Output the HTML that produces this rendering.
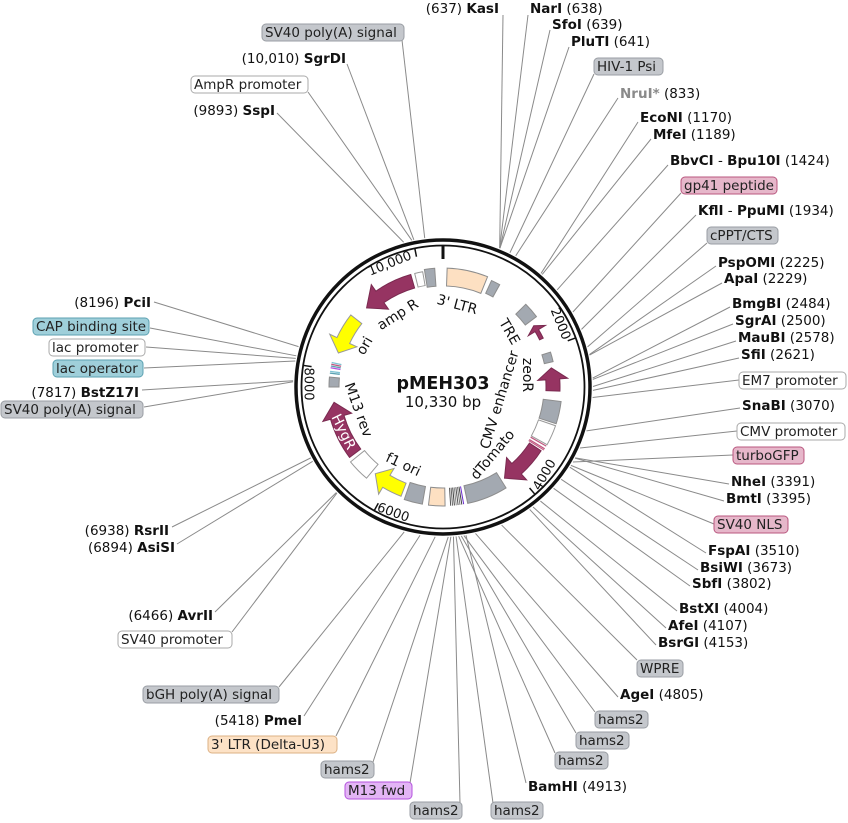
<!DOCTYPE html>
<html><head><meta charset="utf-8"><style>
html,body{margin:0;padding:0;background:#fff;}
svg{display:block;font-family:"DejaVu Sans","Liberation Sans",sans-serif;}
.t{font-size:13.5px;fill:#111;white-space:pre;}
.b{font-weight:bold;}
.lb{font-size:13.5px;fill:#222;}
.in{font-size:14px;fill:#111;}
.tk{font-size:13px;fill:#111;}
</style></head><body>
<svg id="s" width="848" height="823" viewBox="0 0 848 823" xmlns="http://www.w3.org/2000/svg">
<g id="lines" stroke="#8a8a8a" stroke-width="1" fill="none"></g>
<g id="feat"></g>
<circle cx="443" cy="387" r="147" fill="none" stroke="#111" stroke-width="3.5"/>
<circle cx="443" cy="387" r="141.5" fill="none" stroke="#111" stroke-width="1.8"/>
<g id="ticks" stroke="#111"></g>

<text x="443" y="389" text-anchor="middle" font-size="17.5" font-weight="bold" fill="#111">pMEH303</text>
<text x="443" y="407" text-anchor="middle" font-size="15" fill="#111">10,330 bp</text>

<g class="in" text-anchor="middle" dominant-baseline="central">
<text transform="translate(457,305) rotate(15)">3' LTR</text>
<text transform="translate(398,315) rotate(-32)">amp R</text>
<text transform="translate(365,346) rotate(-60)">ori</text>
<text transform="translate(509,332) rotate(60)">TRE</text>
<text transform="translate(527,375) rotate(90)">zeoR</text>
<text transform="translate(500,400) rotate(-73)">CMV enhancer</text>
<text transform="translate(493,455) rotate(-50)">dTomato</text>
<text transform="translate(403,465) rotate(25)">f1 ori</text>
<text transform="translate(358,410) rotate(70)">M13 rev</text>
<text transform="translate(343,432) rotate(64)" style="fill:#fff">HygR</text>
</g>
<g class="tk" text-anchor="middle" dominant-baseline="central">
<text transform="translate(390,264) rotate(-22)">10,000</text>
<text transform="translate(560,324) rotate(68)">2000</text>
<text transform="translate(545,475) rotate(-60)">4000</text>
<text transform="translate(393,513) rotate(20)">6000</text>
<text transform="translate(308,384) rotate(90)">8000</text>
</g>

<g stroke-width="1">
<rect x="262" y="24" width="142" height="17" rx="4" fill="#c4c7cc" stroke="#9a9ea4"/>
<rect x="191" y="76" width="117" height="17" rx="4" fill="#fff" stroke="#aaa"/>
<rect x="594" y="58" width="69" height="17" rx="4" fill="#c4c7cc" stroke="#9a9ea4"/>
<rect x="681" y="177" width="96" height="17" rx="4" fill="#e6b7ca" stroke="#b9577f"/>
<rect x="707" y="227" width="71" height="17" rx="4" fill="#c4c7cc" stroke="#9a9ea4"/>
<rect x="739" y="372" width="107" height="17" rx="4" fill="#fff" stroke="#aaa"/>
<rect x="737" y="423" width="108" height="17" rx="4" fill="#fff" stroke="#aaa"/>
<rect x="733" y="447" width="71" height="17" rx="4" fill="#e6b7ca" stroke="#b9577f"/>
<rect x="714" y="516" width="74" height="17" rx="4" fill="#e6b7ca" stroke="#b9577f"/>
<rect x="637" y="660" width="46" height="17" rx="4" fill="#c4c7cc" stroke="#9a9ea4"/>
<rect x="595" y="711" width="53" height="17" rx="4" fill="#c4c7cc" stroke="#9a9ea4"/>
<rect x="576" y="732" width="53" height="17" rx="4" fill="#c4c7cc" stroke="#9a9ea4"/>
<rect x="555" y="752" width="53" height="17" rx="4" fill="#c4c7cc" stroke="#9a9ea4"/>
<rect x="491" y="802" width="52" height="17" rx="4" fill="#c4c7cc" stroke="#9a9ea4"/>
<rect x="410" y="802" width="52" height="17" rx="4" fill="#c4c7cc" stroke="#9a9ea4"/>
<rect x="345" y="782" width="67" height="17" rx="4" fill="#e3b5f5" stroke="#b453de"/>
<rect x="321" y="761" width="53" height="17" rx="4" fill="#c4c7cc" stroke="#9a9ea4"/>
<rect x="208" y="736" width="129" height="17" rx="4" fill="#fde2c6" stroke="#dcb184"/>
<rect x="143" y="686" width="136" height="17" rx="4" fill="#c4c7cc" stroke="#9a9ea4"/>
<rect x="118" y="631" width="114" height="17" rx="4" fill="#fff" stroke="#aaa"/>
<rect x="1" y="401" width="142" height="17" rx="4" fill="#c4c7cc" stroke="#9a9ea4"/>
<rect x="53" y="360" width="90" height="17" rx="4" fill="#9fcfda" stroke="#5ca2b2"/>
<rect x="49" y="339" width="96" height="17" rx="4" fill="#fff" stroke="#aaa"/>
<rect x="33" y="318" width="116" height="17" rx="4" fill="#9fcfda" stroke="#5ca2b2"/>
</g>
<g class="lb">
<text x="265" y="37">SV40 poly(A) signal</text>
<text x="194" y="89">AmpR promoter</text>
<text x="597" y="71">HIV-1 Psi</text>
<text x="684" y="190">gp41 peptide</text>
<text x="710" y="240">cPPT/CTS</text>
<text x="742" y="385">EM7 promoter</text>
<text x="740" y="436">CMV promoter</text>
<text x="736" y="460">turboGFP</text>
<text x="717" y="529">SV40 NLS</text>
<text x="640" y="673">WPRE</text>
<text x="598" y="724">hams2</text>
<text x="579" y="745">hams2</text>
<text x="558" y="765">hams2</text>
<text x="494" y="815">hams2</text>
<text x="413" y="815">hams2</text>
<text x="348" y="795">M13 fwd</text>
<text x="324" y="774">hams2</text>
<text x="211" y="749">3' LTR (Delta-U3)</text>
<text x="146" y="699">bGH poly(A) signal</text>
<text x="121" y="644">SV40 promoter</text>
<text x="4" y="414">SV40 poly(A) signal</text>
<text x="56" y="373">lac operator</text>
<text x="52" y="352">lac promoter</text>
<text x="36" y="331">CAP binding site</text>
</g>

<g class="t" xml:space="preserve">
<text x="499" y="13" text-anchor="end">(637)  <tspan class="b">KasI</tspan></text>
<text x="530" y="13"><tspan class="b">NarI</tspan>  (638)</text>
<text x="552" y="29"><tspan class="b">SfoI</tspan>  (639)</text>
<text x="571" y="46"><tspan class="b">PluTI</tspan>  (641)</text>
<text x="620" y="98"><tspan class="b" fill="#8a8a8a">NruI*</tspan>  (833)</text>
<text x="640" y="122"><tspan class="b">EcoNI</tspan>  (1170)</text>
<text x="653" y="139"><tspan class="b">MfeI</tspan>  (1189)</text>
<text x="670" y="165"><tspan class="b">BbvCI</tspan> - <tspan class="b">Bpu10I</tspan>  (1424)</text>
<text x="698" y="215"><tspan class="b">KflI</tspan> - <tspan class="b">PpuMI</tspan>  (1934)</text>
<text x="718" y="267"><tspan class="b">PspOMI</tspan>  (2225)</text>
<text x="724" y="283"><tspan class="b">ApaI</tspan>  (2229)</text>
<text x="732" y="308"><tspan class="b">BmgBI</tspan>  (2484)</text>
<text x="735" y="325"><tspan class="b">SgrAI</tspan>  (2500)</text>
<text x="738" y="342"><tspan class="b">MauBI</tspan>  (2578)</text>
<text x="741" y="359"><tspan class="b">SfiI</tspan>  (2621)</text>
<text x="742" y="410"><tspan class="b">SnaBI</tspan>  (3070)</text>
<text x="731" y="486"><tspan class="b">NheI</tspan>  (3391)</text>
<text x="726" y="503"><tspan class="b">BmtI</tspan>  (3395)</text>
<text x="708" y="555"><tspan class="b">FspAI</tspan>  (3510)</text>
<text x="700" y="572"><tspan class="b">BsiWI</tspan>  (3673)</text>
<text x="692" y="588"><tspan class="b">SbfI</tspan>  (3802)</text>
<text x="679" y="613"><tspan class="b">BstXI</tspan>  (4004)</text>
<text x="668" y="630"><tspan class="b">AfeI</tspan>  (4107)</text>
<text x="658" y="647"><tspan class="b">BsrGI</tspan>  (4153)</text>
<text x="620" y="699"><tspan class="b">AgeI</tspan>  (4805)</text>
<text x="528" y="791"><tspan class="b">BamHI</tspan>  (4913)</text>
<text x="302" y="725" text-anchor="end">(5418)  <tspan class="b">PmeI</tspan></text>
<text x="213" y="620" text-anchor="end">(6466)  <tspan class="b">AvrII</tspan></text>
<text x="175" y="552" text-anchor="end">(6894)  <tspan class="b">AsiSI</tspan></text>
<text x="169" y="535" text-anchor="end">(6938)  <tspan class="b">RsrII</tspan></text>
<text x="139" y="397" text-anchor="end">(7817)  <tspan class="b">BstZ17I</tspan></text>
<text x="151" y="307" text-anchor="end">(8196)  <tspan class="b">PciI</tspan></text>
<text x="275" y="115" text-anchor="end">(9893)  <tspan class="b">SspI</tspan></text>
<text x="346" y="63" text-anchor="end">(10,010)  <tspan class="b">SgrDI</tspan></text>
</g>
</svg>
<script>
(function(){
var NS="http://www.w3.org/2000/svg",C=[443,387];
function P(a,r){a=a*Math.PI/180;return [C[0]+r*Math.sin(a),C[1]-r*Math.cos(a)];}
function f(p){return p[0].toFixed(2)+" "+p[1].toFixed(2);}
function el(g,t,at){var e=document.createElementNS(NS,t);for(var k in at)e.setAttribute(k,at[k]);document.getElementById(g).appendChild(e);return e;}
function band(a1,a2,r1,r2,fill,st){
 var L=(a2-a1)>180?1:0;
 var d="M"+f(P(a1,r2))+" A"+r2+" "+r2+" 0 "+L+" 1 "+f(P(a2,r2))+" L"+f(P(a2,r1))+" A"+r1+" "+r1+" 0 "+L+" 0 "+f(P(a1,r1))+" Z";
 el("feat","path",{d:d,fill:fill,stroke:st||"#8d8d8d","stroke-width":1});
}
function arrow(a1,a2,r1,r2,dir,fill,st,h){
 h=h||7;var rm=(r1+r2)/2,d;
 if(dir>0){var ah=a2-h;
  d="M"+f(P(a1,r2))+" A"+r2+" "+r2+" 0 0 1 "+f(P(ah,r2))+" L"+f(P(ah,r2+8))+" L"+f(P(a2,rm))+" L"+f(P(ah,r1-8))+" L"+f(P(ah,r1))+" A"+r1+" "+r1+" 0 0 0 "+f(P(a1,r1))+" Z";
 }else{var ah=a1+h;
  d="M"+f(P(a2,r2))+" A"+r2+" "+r2+" 0 0 0 "+f(P(ah,r2))+" L"+f(P(ah,r2+8))+" L"+f(P(a1,rm))+" L"+f(P(ah,r1-8))+" L"+f(P(ah,r1))+" A"+r1+" "+r1+" 0 0 1 "+f(P(a2,r1))+" Z";
 }
 el("feat","path",{d:d,fill:fill,stroke:st||"#8d8d8d","stroke-width":1});
}
function rad(a,r1,r2,c,w){var p=P(a,r1),q=P(a,r2);el("feat","line",{x1:p[0],y1:p[1],x2:q[0],y2:q[1],stroke:c,"stroke-width":w||1});}
var M="#963462",G="#a3a9b1",Y="#ffff00",PE="#fde0c2";
band(2,22,101,119,PE);
band(24.5,29,103,117,G);
band(45,53,103,117,G);
arrow(56,64,107.5,111.5,-1,M,"#7a2a50",3);
band(72,77,104,113,G);
arrow(80,92,103,117,-1,M,"#7a2a50",6);
band(97,108,101,119,G);
band(109,119,101,119,"#fff","#999");
rad(119.8,101,119,"#c0577f",1.2);rad(120.6,101,119,"#fff",1);rad(121.3,101,119,"#c0577f",1.2);rad(122,101,119,"#c0577f",1);
arrow(123,146,103,117,1,M,"#7a2a50",8);
band(148,168,101,119,G);
var cl=["#6a2bd0","#444","#777","#555","#888","#444","#666","#555"];
for(var i=0;i<8;i++)rad(170+i*0.9,101,119,cl[i],1);
band(179,187,101,119,PE);
band(190,199,101,119,G);
arrow(201,218,103,117,1,Y,"#999",7);
band(220,231,101,119,"#fff","#999");
arrow(233,262,103,117,1,M,"#7a2a50",8);
band(270,275,104,114,G);
var lc=["#5ca2b2","#7fc3d3","#fff","#b453de","#5ca2b2","#c0577f","#7fc3d3"];
for(var i=0;i<7;i++)rad(277+i*0.9,104,114,lc[i],1.3);
arrow(288,308,103,117,-1,Y,"#999",7);
arrow(316,344,103,117,-1,M,"#7a2a50",9);
band(346,350,103,117,"#fff","#999");
band(351,356,101,119,G);
var t=P(0,141),t2=P(0,128);el("ticks","line",{x1:t[0],y1:t[1],x2:t2[0],y2:t2[1],"stroke-width":3});
[2000,4000,6000,8000,10000].forEach(function(b){var a=b/10330*360,p=P(a,141),q=P(a,133);el("ticks","line",{x1:p[0],y1:p[1],x2:q[0],y2:q[1],"stroke-width":1.5});});
var L=[[402,40,353],[347,64,348.8],[308,92,348],[277,113,344.8],[503,15,22.2],[528,15,22.2],[550,30,22.3],[569,47,22.3],
[594,74,26.5],[618,98,29],[638,122,40.8],[651,139,41.4],[668,165,49.6],[681,193,60],[696,215,67.4],[707,243,74.5],
[716,266,77.5],[722,283,77.7],[730,307,86.6],[733,324,87.1],[736,341,89.8],[739,358,91.3],[739,380,94],[740,408,107],
[737,431,114],[733,455,120],[729,484,118.2],[724,501,118.3],[714,524,121.5],[706,553,122.3],[698,570,128],[690,586,132.5],
[677,611,139.5],[666,628,143.1],[656,645,144.7],[637,660,157],[618,697,167.5],[595,712,172],[576,733,173],[555,753,174],
[526,783,171.2],[493,803,175],[460,803,176],[410,783,177],[373,762,178],[336,736,183],[304,716,188.8],[279,687,195],
[232,632,225],[215,612,225.3],[177,544,240.3],[172,527,241.8],[144,407,272],[142,390,272.4],[144,368,280],[146,347,281],
[150,328,282],[154,302,285.6]];
L.forEach(function(l){var q=P(l[2],150);el("lines","line",{x1:l[0],y1:l[1],x2:q[0].toFixed(2),y2:q[1].toFixed(2)});});
})();
</script>
</body></html>
